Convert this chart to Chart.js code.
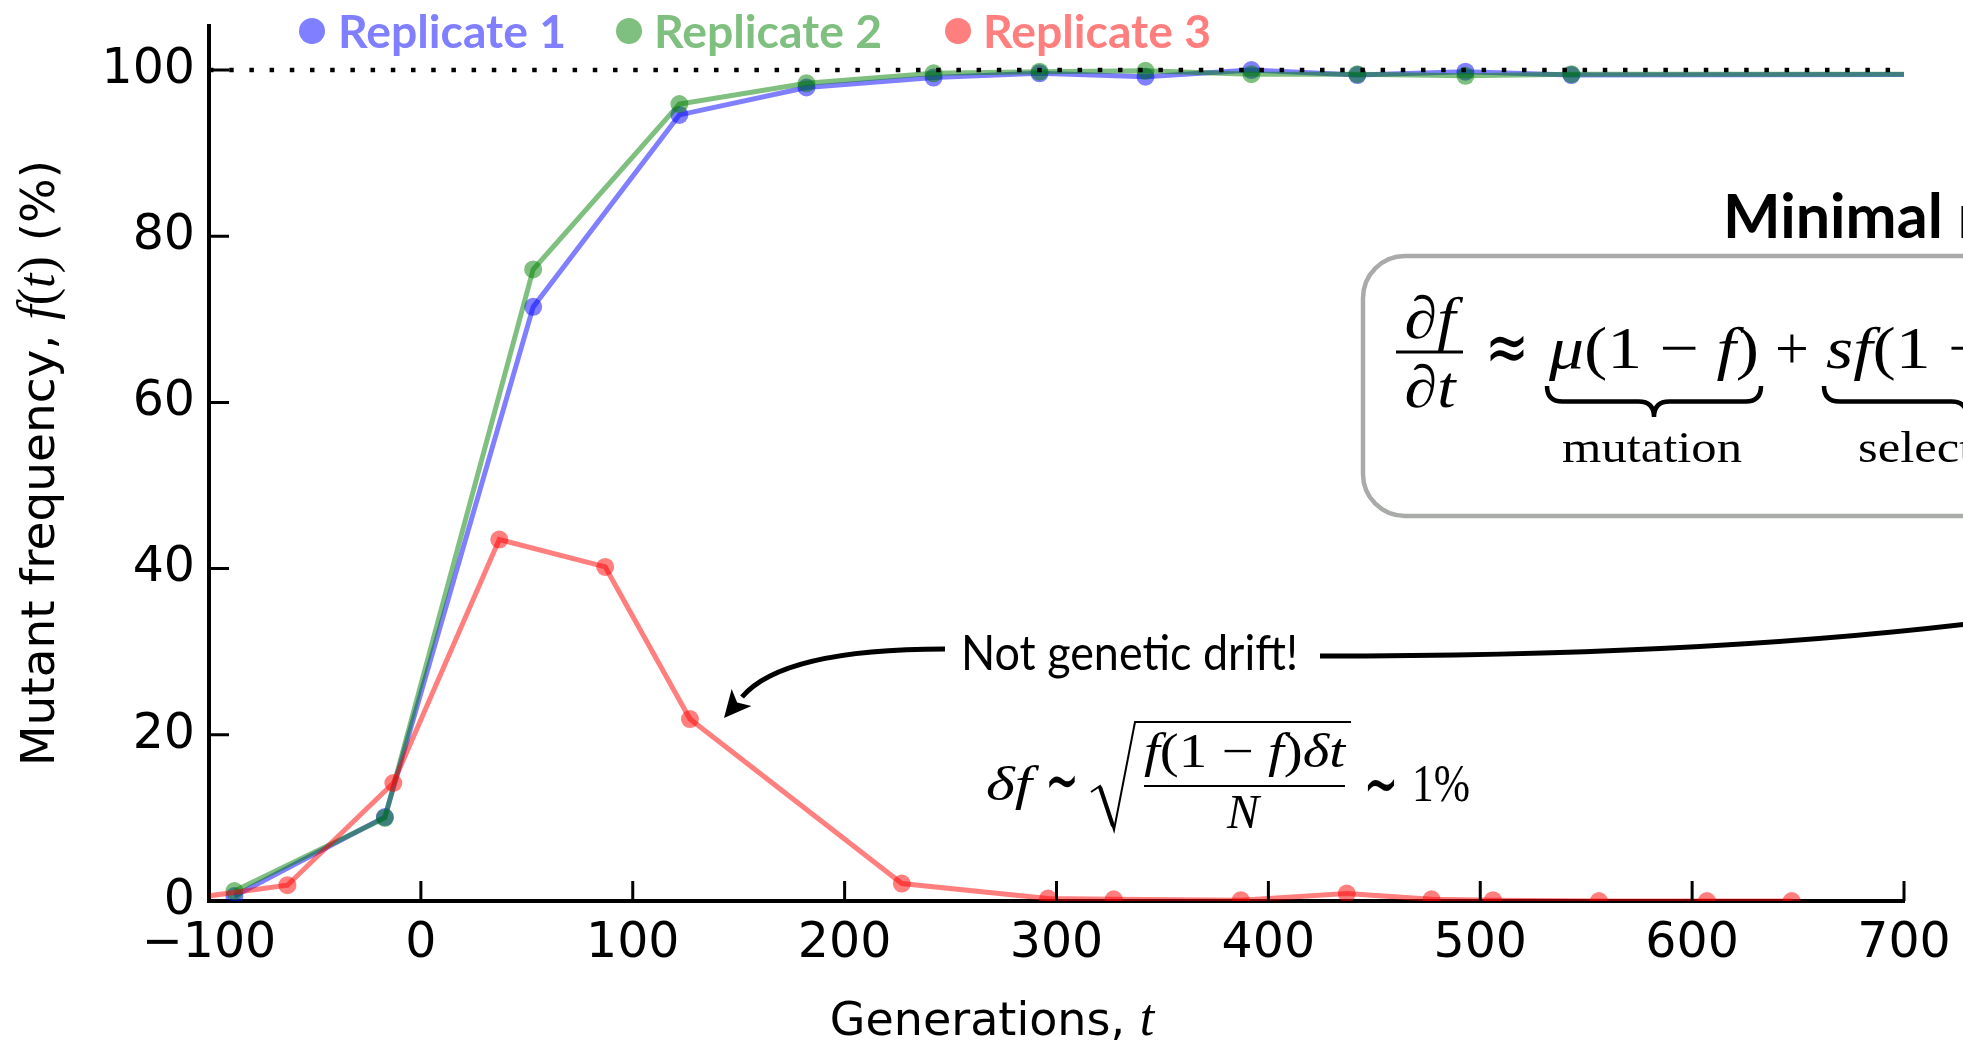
<!DOCTYPE html>
<html>
<head>
<meta charset="utf-8">
<title>Mutant frequency</title>
<script src="https://cdn.jsdelivr.net/npm/chart.js@4.4.1/dist/chart.umd.min.js"></script>
<style>
  html, body { margin: 0; padding: 0; background: #fff; }
  canvas { display: block; }
</style>
</head>
<body>
<canvas id="freqChart" width="1963" height="1043"></canvas>
<script>
// sampled generations and mutant frequency (%) per replicate
const rep12Times = [-88, -17, 53, 122, 182, 242, 292, 342, 392, 442, 493, 543, 800];
const rep1Freq = [0.6, 10.1, 71.5, 94.6, 97.9, 99.1, 99.6, 99.2, 100.0, 99.4, 99.8, 99.4, 99.5];
const rep2Freq = [1.2, 10.0, 76.0, 95.9, 98.4, 99.6, 99.8, 99.9, 99.5, 99.5, 99.3, 99.5, 99.5];
const rep3Times = [-115, -63, -13, 37, 87, 127, 227, 296, 327, 387, 437, 477, 506, 556, 607, 647];
const rep3Freq = [0.1, 1.9, 14.2, 43.5, 40.2, 21.9, 2.1, 0.3, 0.2, 0.1, 0.9, 0.2, 0.1, 0.0, 0.0, 0.0];
const seriesNames = ['Replicate 1', 'Replicate 2', 'Replicate 3'];
const fixedLevel = [100, 100];
const xTicks = [-100, 0, 100, 200, 300, 400, 500, 600, 700];
const yTicks = [0, 20, 40, 60, 80, 100];

const SANS = '"DejaVu Sans"';
const GILL = 'Lato';
const SERIF = '"Liberation Serif", "DejaVu Serif", serif';

const lineColors = ['rgba(0,0,255,0.5)', 'rgba(0,128,0,0.5)', 'rgba(255,0,0,0.5)'];
const textColors = ['#7f7fff', '#7fbf7f', '#ff7f7f'];

function pts(xs, ys) {
    return xs.map((x, i) => ({ x: x, y: ys[i] }));
}

function measureRuns(ctx, parts) {
    let w = 0;
    parts.forEach(p => { ctx.font = p[1]; w += ctx.measureText(p[0]).width; });
    return w;
}

// draws text pieces with mixed fonts from a left edge, optionally squeezed/stretched
function drawRuns(ctx, parts, x, y, sx) {
    sx = sx || 1;
    ctx.save();
    ctx.translate(x, y);
    ctx.scale(sx, 1);
    let cx = 0;
    parts.forEach(p => {
        ctx.font = p[1];
        ctx.fillText(p[0], cx, 0);
        cx += ctx.measureText(p[0]).width;
    });
    ctx.restore();
}

function fitRuns(ctx, parts, x, y, width) {
    const w = measureRuns(ctx, parts);
    drawRuns(ctx, parts, x, y, width / w);
    return width / w;
}

// a maths symbol scaled to a given width around its centre, taller by `tall`
function fitSymbol(ctx, ch, cx, cy, width, font, tall) {
    ctx.font = font;
    const s = width / ctx.measureText(ch).width;
    ctx.save();
    ctx.translate(cx, cy);
    ctx.scale(s, s * (tall || 1));
    ctx.textAlign = 'center';
    ctx.textBaseline = 'middle';
    ctx.fillText(ch, 0, 0);
    ctx.restore();
}

function underbrace(ctx, x1, x2, y, h) {
    const xm = (x1 + x2) / 2, r = h / 2;
    ctx.beginPath();
    ctx.moveTo(x1, y);
    ctx.quadraticCurveTo(x1, y + r, x1 + r, y + r);
    ctx.lineTo(xm - r, y + r);
    ctx.quadraticCurveTo(xm, y + r, xm, y + h);
    ctx.quadraticCurveTo(xm, y + r, xm + r, y + r);
    ctx.lineTo(x2 - r, y + r);
    ctx.quadraticCurveTo(x2, y + r, x2, y);
    ctx.stroke();
}

function arrowHead(ctx, tx, ty, dx, dy, len, half) {
    const bx = tx - dx * len, by = ty - dy * len;
    const nx = -dy, ny = dx;
    ctx.beginPath();
    ctx.moveTo(tx, ty);
    ctx.lineTo(bx + nx * half, by + ny * half);
    ctx.lineTo(tx - dx * len * 0.75, ty - dy * len * 0.75);
    ctx.lineTo(bx - nx * half, by - ny * half);
    ctx.closePath();
    ctx.fill();
}

const decorations = {
    id: 'decorations',
    afterDraw(chart) {
        const ctx = chart.ctx;
        const area = chart.chartArea;
        const xs = chart.scales.x, ys = chart.scales.y;
        ctx.save();
        ctx.fillStyle = '#000';
        ctx.strokeStyle = '#000';
        ctx.textAlign = 'left';
        ctx.textBaseline = 'alphabetic';

        // inward tick marks
        ctx.lineWidth = 3;
        ctx.beginPath();
        xTicks.forEach(v => {
            const px = xs.getPixelForValue(v);
            ctx.moveTo(px, area.bottom);
            ctx.lineTo(px, area.bottom - 20);
        });
        yTicks.forEach(v => {
            const py = ys.getPixelForValue(v);
            ctx.moveTo(area.left, py);
            ctx.lineTo(area.left + 20, py);
        });
        ctx.stroke();

        // axis titles
        const xTitle = [['Generations, ', `46px ${SANS}`], ['t', `italic 52px ${SERIF}`]];
        drawRuns(ctx, xTitle, 992 - measureRuns(ctx, xTitle) / 2, 1035);

        const yTitle = [['Mutant frequency, ', `47px ${SANS}`], ['f', `italic 52px ${SERIF}`],
            ['(', `52px ${SERIF}`], ['t', `italic 52px ${SERIF}`], [')', `52px ${SERIF}`], [' (%)', `47px ${SANS}`]];
        ctx.save();
        ctx.translate(54, 463);
        ctx.rotate(-Math.PI / 2);
        drawRuns(ctx, yTitle, -measureRuns(ctx, yTitle) / 2, 0);
        ctx.restore();

        // legend
        const legendDots = [312, 629, 958];
        const legendText = [338, 654, 983];
        chart.data.datasets.slice(0, 3).forEach((ds, i) => {
            ctx.fillStyle = textColors[i];
            ctx.beginPath();
            ctx.arc(legendDots[i], 31, 13, 0, Math.PI * 2);
            ctx.fill();
            fitRuns(ctx, [[ds.label, `bold 45px ${GILL}`]], legendText[i], 48, 228);
        });

        // model title and box
        ctx.fillStyle = '#000';
        ctx.font = `bold 61px ${GILL}`;
        ctx.fillText('Minimal model', 1723, 238);

        ctx.strokeStyle = '#a9aba9';
        ctx.lineWidth = 4.5;
        ctx.beginPath();
        ctx.roundRect(1363, 256, 800, 260, 42);
        ctx.stroke();

        // equation inside the box
        ctx.strokeStyle = '#000';
        const big = 60;
        const R = `${big}px ${SERIF}`, I = `italic ${big}px ${SERIF}`;
        const num = [['\u2202', R], ['f', I]];
        const den = [['\u2202', R], ['t', I]];
        drawRuns(ctx, num, 1430 - measureRuns(ctx, num) * 1.1 / 2, 338, 1.1);
        drawRuns(ctx, den, 1430 - measureRuns(ctx, den) * 1.1 / 2, 407, 1.1);
        ctx.lineWidth = 3;
        ctx.beginPath();
        ctx.moveTo(1396, 352);
        ctx.lineTo(1463, 352);
        ctx.stroke();
        fitSymbol(ctx, '\u2248', 1507, 353, 44, `50px ${SANS}`, 1.35);
        ctx.textAlign = 'center';
        ctx.font = R;
        ctx.fillText('+', 1792, 368);
        ctx.textAlign = 'left';
        const mutTerm = [['\u03bc', I], ['(1 \u2212 ', R], ['f', I], [')', R]];
        const sx = fitRuns(ctx, mutTerm, 1549, 368, 210);
        drawRuns(ctx, [['s', I], ['f', I], ['(1 \u2212 ', R], ['f', I], [')', R]], 1826, 368, sx);
        ctx.lineWidth = 4.5;
        underbrace(ctx, 1547, 1761, 386, 31);
        underbrace(ctx, 1824, 2110, 386, 31);
        fitRuns(ctx, [['mutation', `44px ${SERIF}`]], 1562, 462, 180);
        drawRuns(ctx, [['selection', `44px ${SERIF}`]], 1858, 462, 1.15);

        // "Not genetic drift!" with arrows
        fitRuns(ctx, [['Not genetic drift!', `48px ${GILL}`]], 961, 670, 337);
        ctx.lineWidth = 5;
        ctx.beginPath();
        ctx.moveTo(945, 649);
        ctx.quadraticCurveTo(783, 649, 742, 697);
        ctx.stroke();
        arrowHead(ctx, 724, 718, -0.65, 0.76, 27, 13);
        ctx.beginPath();
        ctx.moveTo(1320, 656);
        ctx.quadraticCurveTo(1700, 656, 1975, 623);
        ctx.stroke();

        // drift estimate
        const m = 48;
        const MR = `${m}px ${SERIF}`, MI = `italic ${m}px ${SERIF}`;
        fitRuns(ctx, [['\u03b4', MI], ['f', MI]], 986, 800, 46);
        fitSymbol(ctx, '\u223c', 1062, 786, 34, `40px ${SANS}`, 1.8);
        fitSymbol(ctx, '\u223c', 1381, 789, 35, `40px ${SANS}`, 1.8);
        ctx.textAlign = 'left';
        ctx.lineWidth = 2;
        ctx.beginPath();
        ctx.moveTo(1091, 792);
        ctx.lineTo(1100, 786);
        ctx.lineTo(1114, 830);
        ctx.lineTo(1135, 722);
        ctx.lineTo(1351, 722);
        ctx.stroke();
        ctx.lineWidth = 4;
        ctx.beginPath();
        ctx.moveTo(1100, 787);
        ctx.lineTo(1113, 826);
        ctx.stroke();
        fitRuns(ctx, [['f', MI], ['(1 \u2212 ', MR], ['f', MI], [')', MR], ['\u03b4', MI], ['t', MI]], 1144, 767, 201);
        ctx.lineWidth = 2;
        ctx.beginPath();
        ctx.moveTo(1144, 786);
        ctx.lineTo(1345, 786);
        ctx.stroke();
        ctx.font = MI;
        ctx.textAlign = 'center';
        ctx.fillText('N', 1243, 828);
        ctx.textAlign = 'left';
        fitRuns(ctx, [['1%', `52px ${SERIF}`]], 1412, 801, 58);

        ctx.restore();
    }
};

const tickFont = { family: 'DejaVu Sans', size: 49 };

const freqChart = new Chart(document.getElementById('freqChart').getContext('2d'), {
    type: 'line',
    data: {
        datasets: [{
            label: seriesNames[0],
            data: pts(rep12Times, rep1Freq),
            borderColor: lineColors[0],
            backgroundColor: lineColors[0],
            borderWidth: 5,
            pointRadius: 9,
            pointBorderWidth: 0,
            order: 3,
            clip: 0
        }, {
            label: seriesNames[1],
            data: pts(rep12Times, rep2Freq),
            borderColor: lineColors[1],
            backgroundColor: lineColors[1],
            borderWidth: 5,
            pointRadius: 9,
            pointBorderWidth: 0,
            order: 2,
            clip: 0
        }, {
            label: seriesNames[2],
            data: pts(rep3Times, rep3Freq),
            borderColor: lineColors[2],
            backgroundColor: lineColors[2],
            borderWidth: 5,
            pointRadius: 9,
            pointBorderWidth: 0,
            order: 1,
            clip: 0
        }, {
            label: 'fixation',
            data: pts([xTicks[0], xTicks[xTicks.length - 1]], fixedLevel),
            borderColor: '#000',
            borderWidth: 4.5,
            borderDash: [4.5, 15.7],
            pointRadius: 0,
            order: 0,
            clip: 0
        }]
    },
    options: {
        responsive: false,
        animation: false,
        devicePixelRatio: 1,
        layout: { padding: { left: 0, right: 59, top: 26, bottom: 0 } },
        plugins: {
            legend: { display: false },
            tooltip: { enabled: false }
        },
        elements: { line: { tension: 0 } },
        scales: {
            x: {
                type: 'linear',
                min: -100,
                max: 700,
                z: 1,
                grid: { display: false, drawTicks: false, tickLength: 0 },
                border: { display: true, color: '#000', width: 4 },
                ticks: {
                    color: '#000',
                    font: tickFont,
                    padding: 14,
                    maxRotation: 0,
                    autoSkip: false,
                    callback: v => v < 0 ? '\u2212' + Math.abs(v) : String(v)
                },
                afterBuildTicks: s => { s.ticks = xTicks.map(v => ({ value: v })); },
                afterFit: s => {
                    s.height = 142;
                    s.paddingLeft = 0; s.paddingRight = 0; s.paddingTop = 0; s.paddingBottom = 0;
                }
            },
            y: {
                min: 0,
                max: 105.3,
                z: 1,
                grid: { display: false, drawTicks: false, tickLength: 0 },
                border: { display: true, color: '#000', width: 4 },
                ticks: {
                    color: '#000',
                    font: tickFont,
                    padding: 14
                },
                afterBuildTicks: s => { s.ticks = yTicks.map(v => ({ value: v })); },
                afterFit: s => {
                    s.width = 209;
                    s.paddingLeft = 0; s.paddingRight = 0; s.paddingTop = 0; s.paddingBottom = 0;
                }
            }
        }
    },
    plugins: [decorations]
});
</script>
</body>
</html>
